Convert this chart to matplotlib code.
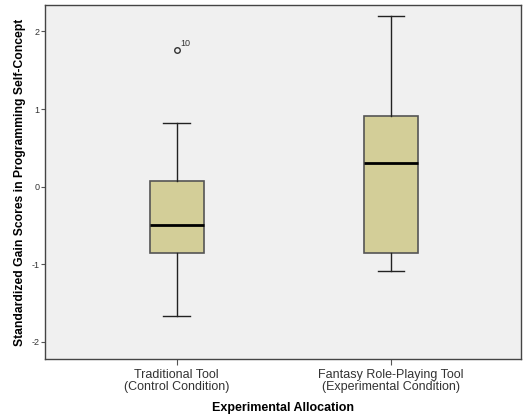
import matplotlib.pyplot as plt

plt.rcParams['font.family'] = ['Liberation Sans', 'DejaVu Sans']

# Box statistics
groups = ["Traditional Tool\n(Control Condition)", "Fantasy Role-Playing Tool\n(Experimental Condition)"]
q1 = [-0.85, -0.85]
median = [-0.495, 0.30]
q3 = [0.07, 0.907]
whisker_low = [-1.66, -1.09]
whisker_high = [0.82, 2.20]
outliers = [[1.76], []]
outlier_ids = [["10"], []]

stats = []
for i in range(len(groups)):
    stats.append({
        "label": groups[i],
        "q1": q1[i],
        "med": median[i],
        "q3": q3[i],
        "whislo": whisker_low[i],
        "whishi": whisker_high[i],
        "fliers": outliers[i],
    })

fig = plt.figure(figsize=(5.24, 4.16), dpi=100)
ax = fig.add_axes([0.0859, 0.137, 0.9084, 0.851])
ax.set_facecolor("#f0f0f0")

positions = [1, 2]
ax.bxp(stats, positions=positions, widths=0.25, patch_artist=True,
       boxprops=dict(facecolor="#d3ce98", edgecolor="#555555", linewidth=1.2),
       medianprops=dict(color="black", linewidth=2),
       whiskerprops=dict(color="#222222", linewidth=1),
       capprops=dict(color="#222222", linewidth=1),
       capwidths=0.125,
       flierprops=dict(marker="o", markersize=4, markerfacecolor="none",
                       markeredgecolor="#333333", markeredgewidth=1))

# Case number beside each outlier
for i, pos in enumerate(positions):
    for val, cid in zip(outliers[i], outlier_ids[i]):
        ax.text(pos + 0.015, val + 0.03, cid, fontsize=6.5, color="#333333",
                ha="left", va="bottom")

ax.set_xlim(0.385, 2.607)
ax.set_ylim(-2.22, 2.34)
ax.set_yticks([-2, -1, 0, 1, 2])
ax.set_yticklabels(["-2", "-1", "0", "1", "2"], fontsize=6.5, color="#333333")
ax.set_xticks(positions)
ax.set_xticklabels(groups, fontsize=9, color="#333333", linespacing=1.0)
ax.tick_params(axis="y", length=3, width=0.8, color="#555555", pad=1)
ax.tick_params(axis="x", length=4, width=0.8, color="#555555", pad=3)

for side in ax.spines.values():
    side.set_color("#444444")
    side.set_linewidth(1)

ax.set_xlabel("Experimental Allocation", fontsize=9, fontweight="bold", labelpad=7)
ax.set_ylabel("Standardized Gain Scores in Programming Self-Concept", fontsize=8.7,
              fontweight="bold", labelpad=4)

plt.savefig("out.png", dpi=100)
